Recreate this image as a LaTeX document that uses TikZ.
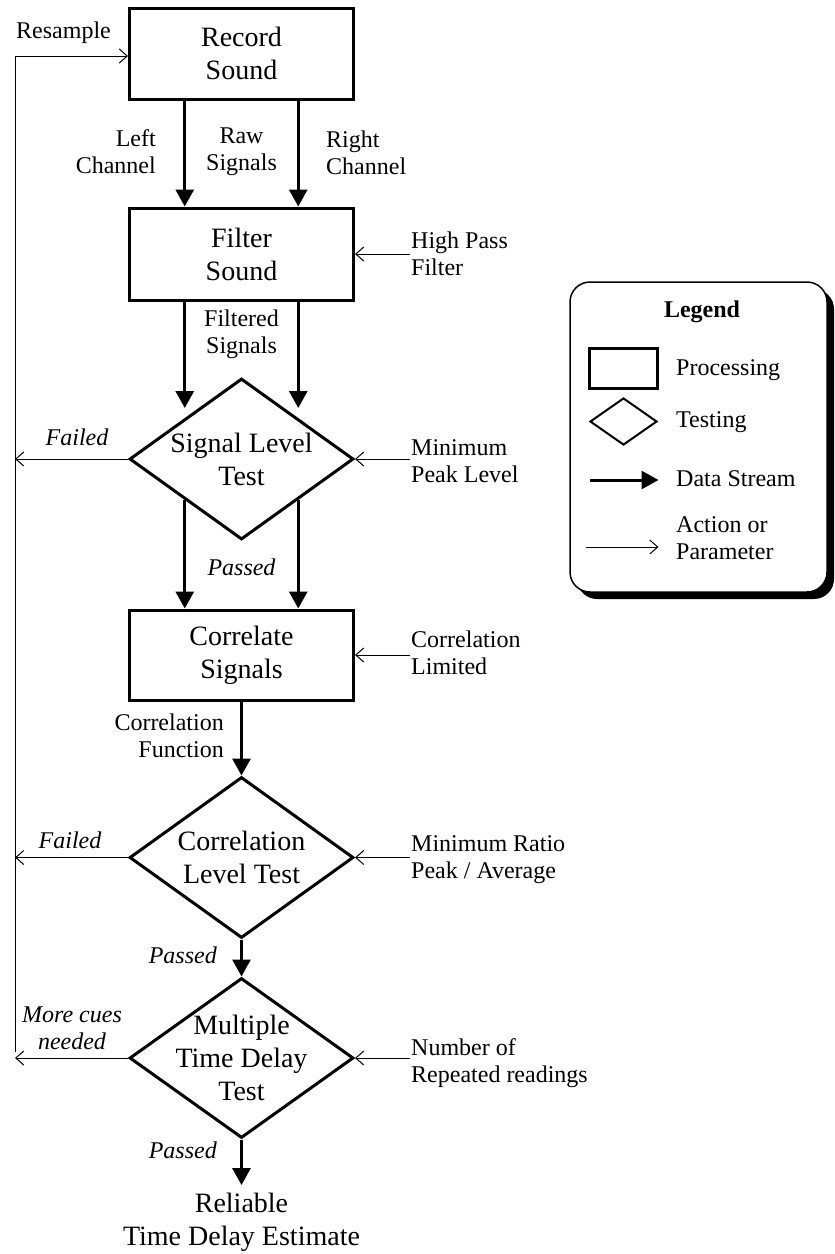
\documentclass[tikz,border=0pt]{standalone}
\usepackage{fontspec}
\setmainfont{Liberation Serif}
\usetikzlibrary{arrows.meta,shapes.geometric,shadows}
\newcommand\mainfs{\fontsize{28}{33}\selectfont}
\newcommand\labfs{\fontsize{24}{26.5}\selectfont}
\begin{document}
\begin{tikzpicture}[x=1pt,y=-1pt,
  proc/.style={draw,line width=3pt,minimum width=224pt,minimum height=91pt,inner sep=0pt,align=center,font=\mainfs},
  test/.style={draw,diamond,line width=3pt,minimum width=224pt,minimum height=161pt,inner sep=0pt},
  tlabel/.style={align=center,font=\mainfs,inner sep=0pt},
  lab/.style={inner sep=1pt,font=\labfs},
  ital/.style={inner sep=1pt,font=\labfs\itshape},
  data/.style={line width=3pt,-{Triangle[length=17pt,width=18pt]}},
  param/.style={line width=1pt,-{Straight Barb[length=8pt,width=14pt]}},
]
\useasboundingbox (0,0) rectangle (835,1254);

% main flow
\node[proc] (rec) at (241.5,53.5) {Record\\Sound};
\node[proc,minimum height=92pt] (fil) at (241.5,254) {Filter\\Sound};
\node[test,label={[tlabel]center:{Signal Level\\Test}}] (sig) at (241.5,459) {};
\node[proc,minimum height=90pt] (cor) at (241.5,655) {Correlate\\Signals};
\node[test,label={[tlabel]center:{Correlation\\Level Test}}] (cl) at (241.5,857.5) {};
\node[test,minimum height=160pt,label={[tlabel]center:{Multiple\\Time Delay\\Test}}] (mt) at (241.5,1058) {};
\node[anchor=base,align=center,font=\mainfs] (rel) at (241.5,1245) {Reliable\\Time Delay Estimate};

% labels (anchor base = baseline of last line)
\node[lab,anchor=base west] (res) at (15,38) {Resample};
\node[lab,anchor=base east,align=right] (lc) at (157,173) {Left\\Channel};
\node[lab,anchor=base,align=center] (raw) at (241.5,170) {Raw\\Signals};
\node[lab,anchor=base west,align=left] (rc) at (325,174) {Right\\Channel};
\node[lab,anchor=base west,align=left] (hp) at (410,275) {High Pass\\Filter};
\node[lab,anchor=base,align=center] (fs) at (241.5,353) {Filtered\\Signals};
\node[ital,anchor=base] (f1) at (77,445) {Failed};
\node[lab,anchor=base west,align=left] (mpl) at (410,482) {Minimum\\Peak Level};
\node[ital,anchor=base] (p1) at (241.5,575) {Passed};
\node[lab,anchor=base west,align=left] (clim) at (410,674) {Correlation\\Limited};
\node[lab,anchor=base east,align=right] (cf) at (225,757) {Correlation\\Function};
\node[ital,anchor=base] (f2) at (70,848) {Failed};
\node[lab,anchor=base west,align=left] (mr) at (410,878) {Minimum Ratio\\Peak / Average};
\node[ital,anchor=base east] (p2) at (218,963) {Passed};
\node[ital,anchor=base,align=center] (mc) at (72,1049) {More cues\\needed};
\node[lab,anchor=base west,align=left] (nr) at (410,1082) {Number of\\Repeated readings};
\node[ital,anchor=base east] (p3) at (218,1158) {Passed};

% data streams
\draw[data] (rec.south -| sig.north west) -- (fil.north -| sig.north west);
\draw[data] (rec.south -| sig.north east) -- (fil.north -| sig.north east);
\draw[data,shorten >=10pt] (fil.south -| sig.north west) -- (sig.north west);
\draw[data,shorten >=10pt] (fil.south -| sig.north east) -- (sig.north east);
\draw[data] (sig.south west) -- (cor.north -| sig.south west);
\draw[data] (sig.south east) -- (cor.north -| sig.south east);
\draw[data] (cor.south) -- (cl.north);
\draw[data] (cl.south) -- (mt.north);
\draw[data,shorten >=4pt] (mt.south) -- (rel.north);

% parameters
\draw[param] (fil.east -| hp.west) -- (fil.east);
\draw[param] (sig.east -| mpl.west) -- (sig.east);
\draw[param] (cor.east -| clim.west) -- (cor.east);
\draw[param] (cl.east -| mr.west) -- (cl.east);
\draw[param] (mt.east -| nr.west) -- (mt.east);

% feedback
\coordinate (lt) at (15,56);
\coordinate (lb) at (15,1052);
\draw[param] (lb) -- (lt) -- (lt -| rec.west);
\draw[param] (sig.west) -- (sig.west -| lt);
\draw[param] (cl.west) -- (cl.west -| lt);
\draw[param] (mt.west) -- (mt.west -| lt);

% legend
\node[draw,line width=1.5pt,rounded corners=20pt,fill=white,minimum width=257pt,minimum height=310pt,
  drop shadow={shadow xshift=7pt,shadow yshift=-7pt,opacity=1,fill=black}] (leg) at (698.5,437) {};
\node[font=\labfs\bfseries,anchor=base] (legt) at (702,317) {Legend};
\node[draw,line width=3pt,minimum width=68pt,minimum height=40pt,inner sep=0pt] (lgp) at (623,368) {};
\node[lab,anchor=base west] (lgpt) at (675,375) {Processing};
\node[draw,diamond,line width=2pt,minimum width=67pt,minimum height=47pt,inner sep=0pt] (lgt) at (623.5,421.5) {};
\node[lab,anchor=base west] (lgtt) at (675,427) {Testing};
\coordinate (lds) at (590,480);
\draw[data] (lds) -- (lds -| lgp.east);
\node[lab,anchor=base west] (lgdt) at (675,486) {Data Stream};
\coordinate (lap) at (586,547);
\draw[param] (lap) -- (lap -| lgp.east);
\node[lab,anchor=base west,align=left] (lgat) at (675,559) {Action or\\Parameter};
\end{tikzpicture}
\end{document}
